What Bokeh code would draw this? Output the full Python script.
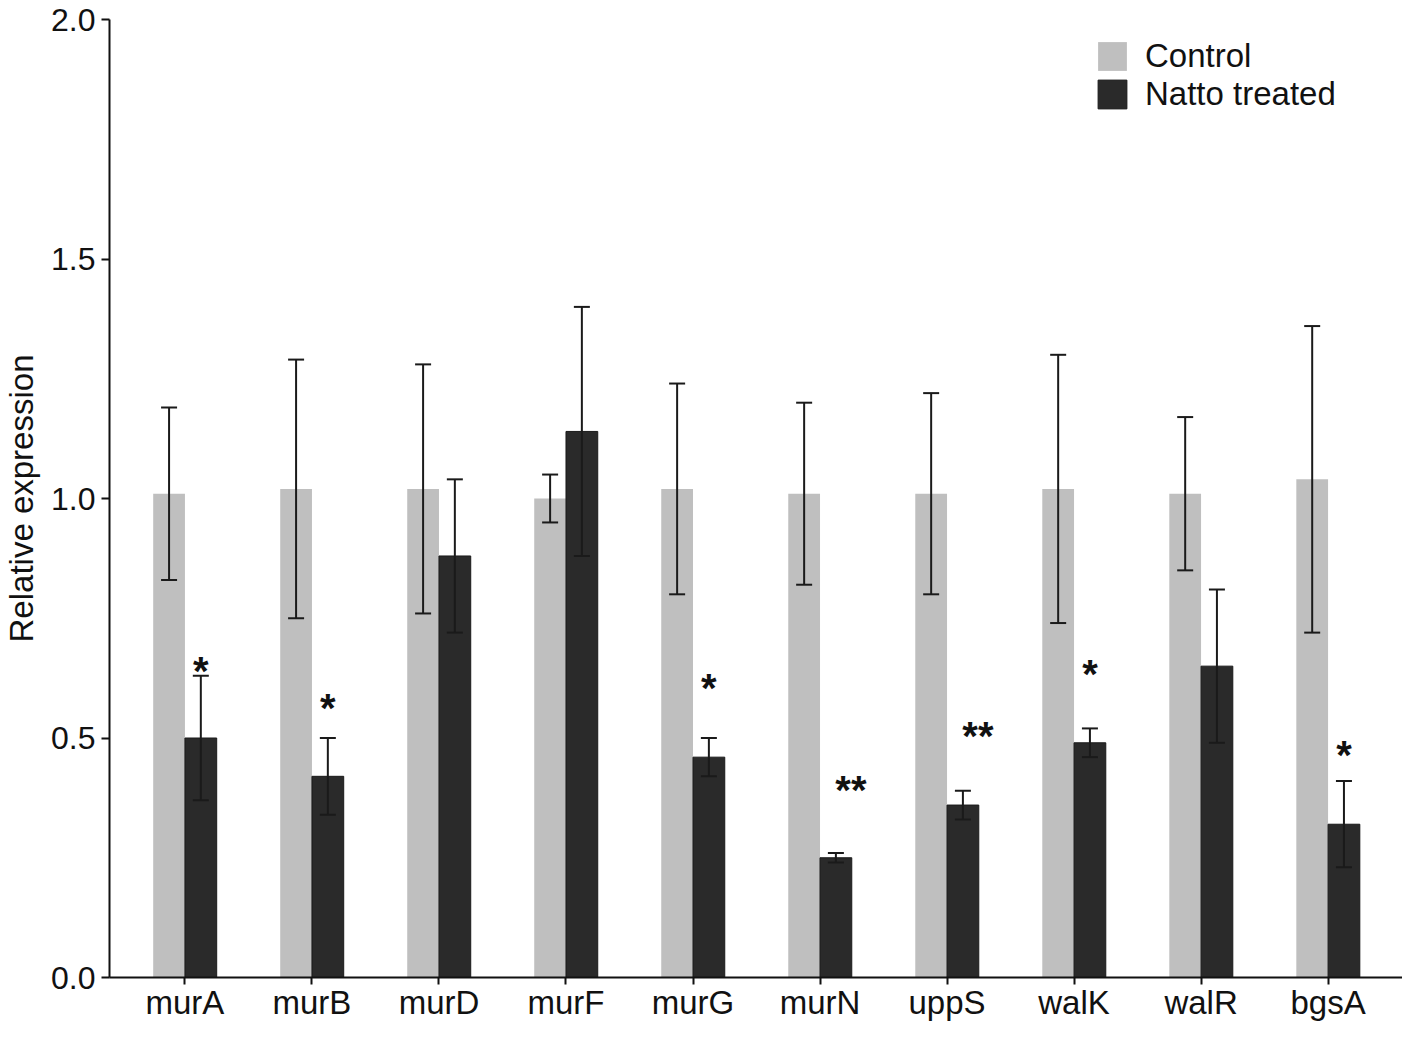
from bokeh.plotting import figure
from bokeh.models import (ColumnDataSource, Range1d, FixedTicker, Whisker, TeeHead,
                          Legend, LegendItem, PrintfTickFormatter)
from bokeh.core.properties import value
from bokeh.embed import file_html
from bokeh.resources import INLINE
import numpy as np

genes = ["murA", "murB", "murD", "murF", "murG", "murN", "uppS", "walK", "walR", "bgsA"]
control = [1.01, 1.02, 1.02, 1.00, 1.02, 1.01, 1.01, 1.02, 1.01, 1.04]
control_hi = [1.19, 1.29, 1.28, 1.05, 1.24, 1.20, 1.22, 1.30, 1.17, 1.36]
control_lo = [0.83, 0.75, 0.76, 0.95, 0.80, 0.82, 0.80, 0.74, 0.85, 0.72]
natto = [0.50, 0.42, 0.88, 1.14, 0.46, 0.25, 0.36, 0.49, 0.65, 0.32]
natto_hi = [0.63, 0.50, 1.04, 1.40, 0.50, 0.26, 0.39, 0.52, 0.81, 0.41]
natto_lo = [0.37, 0.34, 0.72, 0.88, 0.42, 0.24, 0.33, 0.46, 0.49, 0.23]
stars = ["*", "*", "", "", "*", "**", "**", "*", "", "*"]
star_y = [0.655, 0.577, 0, 0, 0.618, 0.407, 0.519, 0.649, 0, 0.479]
y_ticks = [0.0, 0.5, 1.0, 1.5, 2.0]

FONT = "Liberation Sans"
idx = np.arange(len(genes))
bw = 0.25

src_c = ColumnDataSource(dict(x=idx - bw / 2, top=control, upper=control_hi, lower=control_lo))
src_n = ColumnDataSource(dict(x=idx + bw / 2, top=natto, upper=natto_hi, lower=natto_lo))

sel = [i for i, s in enumerate(stars) if s]
src_s = ColumnDataSource(dict(
    x=[idx[i] + bw / 2 for i in sel],
    y=[star_y[i] for i in sel],
    t=[stars[i] for i in sel],
    xo=[0 if len(stars[i]) == 1 else 15 for i in sel],
))

p = figure(width=1402, height=1023, output_backend="svg", toolbar_location=None,
           x_range=Range1d(-0.594, 9.586), y_range=Range1d(0, 2.0),
           min_border_left=99, min_border_top=19, min_border_right=0, min_border_bottom=44)
p.outline_line_color = None
p.xgrid.visible = False
p.ygrid.visible = False
p.background_fill_color = "white"

rc = p.vbar(x="x", top="top", width=bw, bottom=0, source=src_c,
            fill_color="#bfbfbf", line_color=None)
rn = p.vbar(x="x", top="top", width=bw, bottom=0, source=src_n,
            fill_color="#2a2a2a", line_color="#1a1a1a", line_width=1)

for s in (src_c, src_n):
    w = Whisker(source=s, base="x", upper="upper", lower="lower", level="overlay",
                line_color="#1a1a1a", line_width=2,
                upper_head=TeeHead(size=16, line_color="#1a1a1a", line_width=2),
                lower_head=TeeHead(size=16, line_color="#1a1a1a", line_width=2))
    p.add_layout(w)

p.text(x="x", y="y", text="t", source=src_s, x_offset="xo", y_offset=7,
       text_align="center", text_baseline="alphabetic",
       text_font=value(FONT), text_font_size="40px", text_font_style="bold",
       text_color="#111111")

# axes
p.xaxis.ticker = FixedTicker(ticks=list(idx))
p.xaxis.major_label_overrides = {int(i): g for i, g in zip(idx, genes)}
p.yaxis.ticker = FixedTicker(ticks=y_ticks)
p.yaxis.formatter = PrintfTickFormatter(format="%.1f")
p.yaxis.axis_label = "Relative expression"

for ax in (p.xaxis[0], p.yaxis[0]):
    ax.axis_line_color = "#111111"
    ax.axis_line_width = 2
    ax.major_tick_line_color = "#111111"
    ax.major_tick_line_width = 2
    ax.major_tick_in = 0
    ax.minor_tick_line_color = None
    ax.major_label_text_font = FONT
    ax.major_label_text_color = "#111111"
    ax.axis_label_text_font = FONT
    ax.axis_label_text_font_size = "33px"
    ax.axis_label_text_font_style = "normal"
    ax.axis_label_text_color = "#111111"

p.xaxis.major_label_text_font_size = "33px"
p.yaxis.major_label_text_font_size = "32px"
p.xaxis.major_tick_out = 7
p.xaxis.major_label_standoff = -1
p.yaxis.major_tick_out = 8
p.yaxis.major_label_standoff = 6
p.yaxis.axis_label_standoff = 8

legend = Legend(items=[LegendItem(label="Control", renderers=[rc]),
                       LegendItem(label="Natto treated", renderers=[rn])],
                location=(985, 864))
legend.label_text_font = FONT
legend.label_text_font_size = "33px"
legend.label_text_color = "#111111"
legend.label_height = 32
legend.glyph_height = 36
legend.glyph_width = 36
legend.label_standoff = 15
legend.spacing = 0
legend.padding = 0
legend.margin = 0
legend.border_line_color = None
legend.background_fill_alpha = 0
p.add_layout(legend)

open("out.html", "w").write(file_html(p, INLINE))
